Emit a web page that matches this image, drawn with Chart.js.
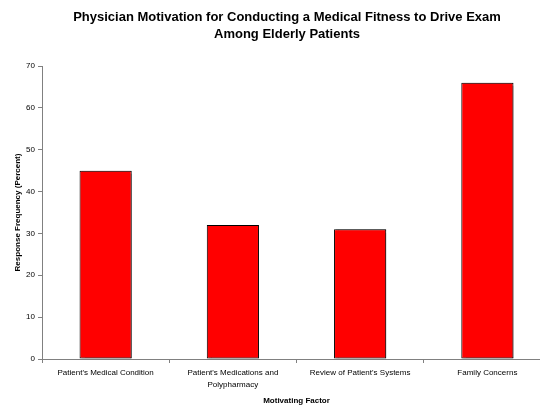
<!DOCTYPE html>
<html>
<head>
<meta charset="utf-8">
<script src="https://cdn.jsdelivr.net/npm/chart.js@4/dist/chart.umd.min.js"></script>
<style>
  html, body { margin: 0; padding: 0; background: #fff; overflow: hidden; }
  #wrap { position: relative; width: 551px; height: 406px; }
</style>
</head>
<body>
<div id="wrap"><canvas id="myChart" width="551" height="406"></canvas></div>
<script>
const titleLines = ["Physician Motivation for Conducting a Medical Fitness to Drive Exam", "Among Elderly Patients"];
const categories = [
  "Patient's Medical Condition",
  ["Patient's Medications and", "Polypharmacy"],
  "Review of Patient's Systems",
  "Family Concerns"
];
const values = [45, 32, 31, 66];
const yTicks = [0, 10, 20, 30, 40, 50, 60, 70];

const font = "'Liberation Sans', Arial, sans-serif";
const axisGray = "#808080";

// title drawn by hand so it can sit where the original put it
const titlePlugin = {
  id: "titleText",
  afterDraw(chart) {
    const ctx = chart.ctx;
    ctx.save();
    ctx.fillStyle = "#000";
    ctx.font = "bold 13px " + font;
    ctx.textAlign = "center";
    ctx.textBaseline = "middle";
    titleLines.forEach((line, i) => {
      ctx.fillText(line, 287, 17 + i * 17);
    });
    ctx.restore();
  },
};

// little grey drop shadow on the bars, like the old excel look
const shadowPlugin = {
  id: "barShadow",
  beforeDatasetsDraw(chart) {
    const ctx = chart.ctx;
    ctx.save();
    ctx.shadowColor = "rgba(0,0,0,0.35)";
    ctx.shadowOffsetX = 2;
    ctx.shadowOffsetY = 0;
    ctx.shadowBlur = 1;
  },
  afterDatasetsDraw(chart) {
    chart.ctx.restore();
  },
};

new Chart(document.getElementById("myChart"), {
  type: "bar",
  data: {
    labels: categories,
    datasets: [{
      data: values,
      backgroundColor: "#ff0000",
      borderColor: "#000",
      borderWidth: 1,
      borderSkipped: false,
      categoryPercentage: 1,
      barPercentage: 0.41,
    }],
  },
  options: {
    responsive: false,
    animation: false,
    layout: { padding: { top: 66, left: 0, right: 0, bottom: 0 } },
    plugins: {
      legend: { display: false },
      tooltip: { enabled: false },
    },
    scales: {
      x: {
        afterFit: (s) => { s.height = 47; },
        grid: { drawOnChartArea: false, color: axisGray, tickLength: 4, offset: true },
        border: { color: axisGray },
        ticks: { color: "#000", font: { family: font, size: 8, lineHeight: 1.5 }, padding: 4, maxRotation: 0, autoSkip: false },
        title: {
          display: true,
          text: "Motivating Factor",
          color: "#000",
          font: { family: font, size: 8, weight: "bold" },
          padding: { top: 0, bottom: 0 },
        },
      },
      y: {
        min: 0,
        max: 70,
        afterFit: (s) => { s.width = 42; },
        afterBuildTicks: (s) => { s.ticks = yTicks.map((v) => ({ value: v })); },
        grid: { drawOnChartArea: false, color: axisGray, tickLength: 4 },
        border: { color: axisGray },
        ticks: { color: "#000", font: { family: font, size: 8 }, padding: 3 },
        title: {
          display: true,
          text: "Response Frequency (Percent)",
          color: "#000",
          font: { family: font, size: 8, weight: "bold" },
          padding: { top: 13, bottom: 0 },
        },
      },
    },
  },
  plugins: [titlePlugin, shadowPlugin],
});
</script>
</body>
</html>
